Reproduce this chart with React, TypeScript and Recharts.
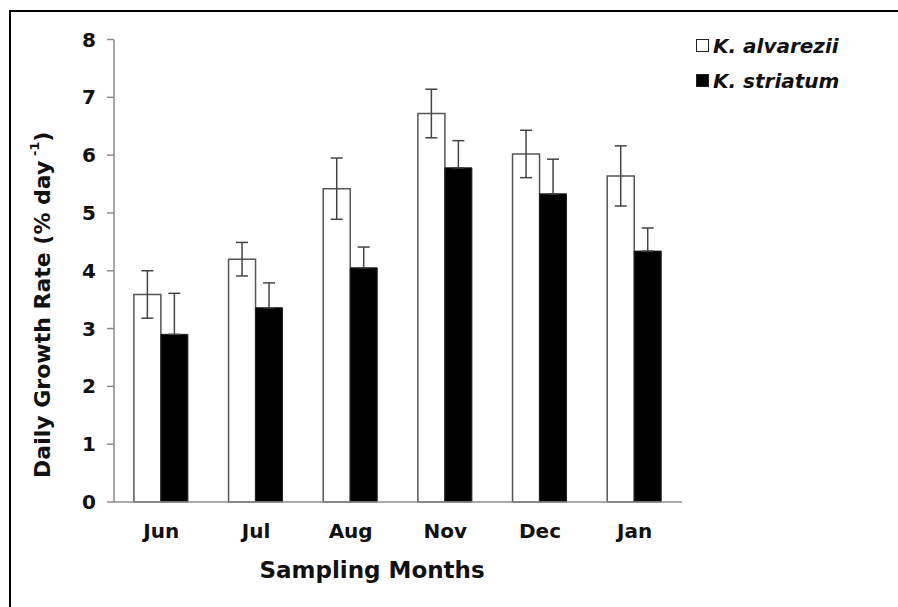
import React from 'react';
import { BarChart, Bar, XAxis, YAxis, ErrorBar, Legend } from 'recharts';

const months = ['Jun', 'Jul', 'Aug', 'Nov', 'Dec', 'Jan'];
const alvarezii = [3.59, 4.2, 5.42, 6.72, 6.02, 5.64];
const alvareziiErr = [0.41, 0.29, 0.53, 0.42, 0.41, 0.52];
const striatum = [2.9, 3.36, 4.05, 5.78, 5.33, 4.34];
const striatumErr = [0.71, 0.43, 0.36, 0.47, 0.6, 0.4];
const yTicks = [0, 1, 2, 3, 4, 5, 6, 7, 8];
const boundaryTicks = [0, 1, 2, 3, 4, 5, 6];
const seriesNames = ['K. alvarezii', 'K. striatum'];

// lower half of the black bars' error bars is hidden inside the black fill
const data = months.map((m, i) => ({
  month: m,
  a: alvarezii[i],
  aErr: alvareziiErr[i],
  s: striatum[i],
  sErr: [0, striatumErr[i]],
}));

const FONT = '"DejaVu Sans", Verdana, sans-serif';
const AXIS = '#8c8c8c';

const LegendContent = () => (
  <div style={{ fontFamily: FONT, fontWeight: 'bold', fontStyle: 'italic', fontSize: 20, color: '#111' }}>
    {seriesNames.map((name, i) => (
      <div key={name} style={{ display: 'flex', alignItems: 'center', height: 35 }}>
        <span
          style={{
            display: 'inline-block',
            width: 11,
            height: 11,
            border: '1.5px solid #222',
            background: i === 0 ? '#fff' : '#000',
            marginRight: 4,
          }}
        />
        <span>{name}</span>
      </div>
    ))}
  </div>
);

const YLabel = (props: any) => {
  const vb = props.viewBox || { x: 0, y: 0, width: 0, height: 0 };
  const cx = vb.x + 42;
  const cy = vb.y + vb.height / 2 + 34;
  return (
    <text
      transform={`translate(${cx},${cy}) rotate(-90)`}
      textAnchor="middle"
      dominantBaseline="central"
      fontFamily={FONT}
      fontWeight="bold"
      fontSize={22}
      fill="#111"
    >
      Daily Growth Rate (% day
      <tspan fontSize={13} dy={-8}> -1</tspan>
      <tspan dy={8}>)</tspan>
    </text>
  );
};

const XLabel = (props: any) => {
  const vb = props.viewBox || { x: 0, y: 0, width: 0, height: 0 };
  const cx = vb.x + vb.width / 2 - 26;
  const cy = vb.y + 68;
  return (
    <text x={cx} y={cy} textAnchor="middle" dominantBaseline="central" fontFamily={FONT} fontWeight="bold" fontSize={23} fill="#111">
      Sampling Months
    </text>
  );
};

export default function App() {
  return (
    <div style={{ position: 'absolute', left: 0, top: 0, width: 898, height: 607, background: '#fff' }}>
      <div
        style={{
          position: 'absolute',
          left: 9,
          top: 10,
          right: 0,
          bottom: 0,
          borderLeft: '2px solid #000',
          borderTop: '2px solid #000',
        }}
      />
      <div style={{ position: 'absolute', left: 0, top: 0 }}>
        <BarChart
          width={898}
          height={607}
          data={data}
          margin={{ top: 39.5, right: 216, left: 0, bottom: 45 }}
          barCategoryGap="21%"
          barGap={0}
        >
          <XAxis
            xAxisId="bounds"
            type="number"
            domain={[0, 6]}
            ticks={boundaryTicks}
            allowDataOverflow
            tick={false}
            tickSize={7}
            axisLine={false}
            tickLine={{ stroke: AXIS, strokeWidth: 1.5 }}
            height={0}
          />
          <XAxis
            dataKey="month"
            height={60}
            tickSize={0}
            tickMargin={22}
            tickLine={false}
            axisLine={{ stroke: AXIS, strokeWidth: 1.5 }}
            tick={{ fontFamily: FONT, fontWeight: 'bold', fontSize: 20, fill: '#111' }}
            label={<XLabel />}
          />
          <YAxis
            width={114}
            domain={[0, 8]}
            ticks={yTicks}
            interval={0}
            tickSize={7}
            tickMargin={11}
            axisLine={{ stroke: AXIS, strokeWidth: 1.5 }}
            tickLine={{ stroke: AXIS, strokeWidth: 1.5 }}
            tick={{ fontFamily: FONT, fontWeight: 'bold', fontSize: 20, fill: '#111' }}
            label={<YLabel />}
          />
          <Legend
            verticalAlign="middle"
            align="center"
            layout="vertical"
            content={<LegendContent />}
            wrapperStyle={{ position: 'absolute', left: 696, top: 28, width: 200 }}
          />
          <Bar dataKey="a" name={seriesNames[0]} fill="#ffffff" stroke="#555" strokeWidth={1.5} isAnimationActive={false}>
            <ErrorBar dataKey="aErr" width={6} stroke="#444" strokeWidth={1.5} direction="y" />
          </Bar>
          <Bar dataKey="s" name={seriesNames[1]} fill="#000000" stroke="#222" strokeWidth={1} isAnimationActive={false}>
            <ErrorBar dataKey="sErr" width={6} stroke="#444" strokeWidth={1.5} direction="y" />
          </Bar>
        </BarChart>
      </div>
    </div>
  );
}
